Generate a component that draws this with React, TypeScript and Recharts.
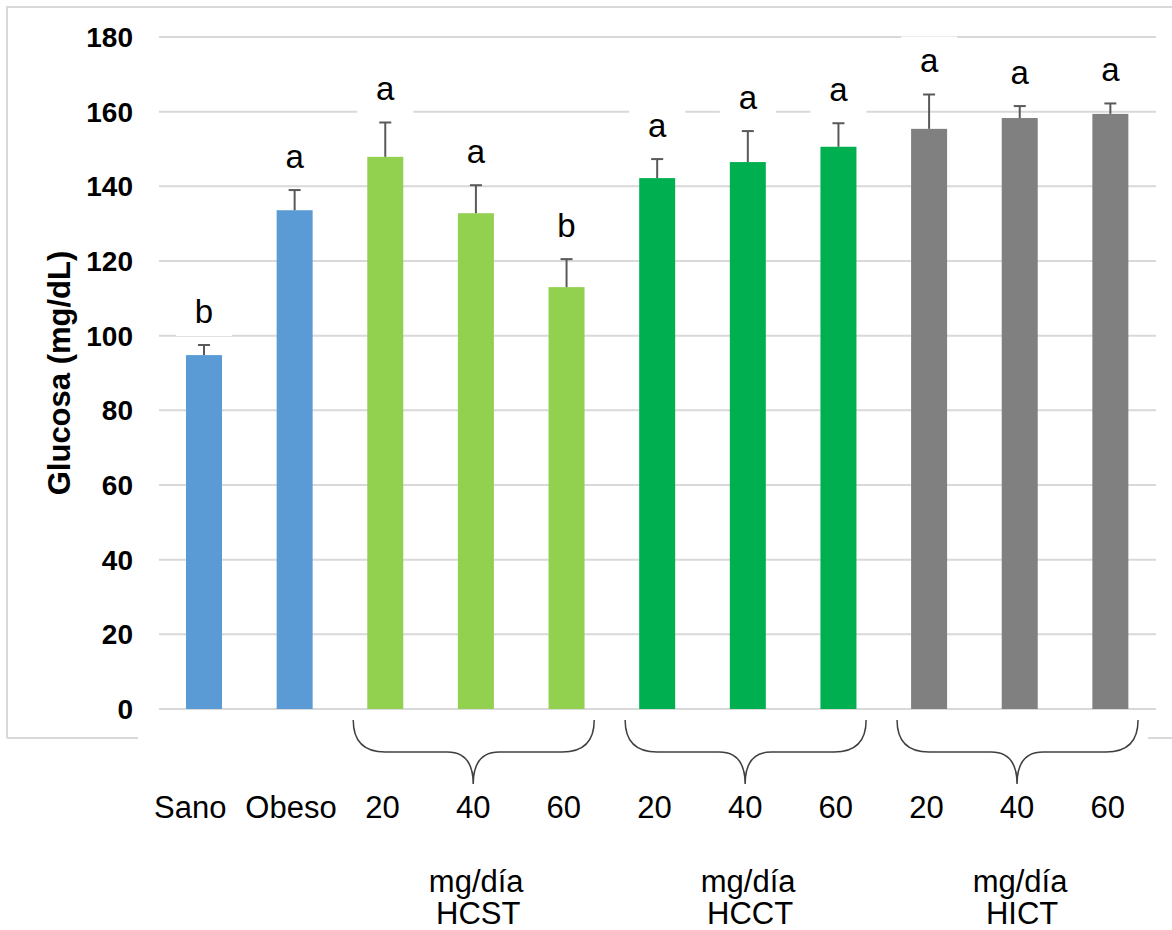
import React from 'react';
import { BarChart, Bar, XAxis, YAxis, CartesianGrid } from 'recharts';

const categories = ['Sano', 'Obeso', '20', '40', '60', '20', '40', '60', '20', '40', '60'];
const glucose = [94.8, 133.6, 147.9, 132.8, 113.0, 142.2, 146.5, 150.6, 155.4, 158.3, 159.4];
const errors = [2.7, 5.4, 9.2, 7.5, 7.5, 5.1, 8.3, 6.3, 9.2, 3.2, 2.8];
const letters = ['b', 'a', 'a', 'a', 'b', 'a', 'a', 'a', 'a', 'a', 'a'];
const groupOf = ['ctrl', 'ctrl', 'HCST', 'HCST', 'HCST', 'HCCT', 'HCCT', 'HCCT', 'HICT', 'HICT', 'HICT'];
const yTicks = [0, 20, 40, 60, 80, 100, 120, 140, 160, 180];
const unitLabel = 'mg/día';
const yLabel = 'Glucosa (mg/dL)';

const COLORS: Record<string, string> = {
  ctrl: '#5B9BD5',
  HCST: '#92D050',
  HCCT: '#00B050',
  HICT: '#808080',
};

const FONT = '"Liberation Sans", Arial, sans-serif';

const data = categories.map((name, i) => ({
  key: i,
  name,
  glucose: glucose[i],
  err: errors[i],
  letter: letters[i],
  group: groupOf[i],
}));

// bar + upper error bar + significance letter on a white box
const BarWithError = (props: any) => {
  const { x, y, width, height, payload } = props;
  const perUnit = height / payload.glucose;
  const errTop = y - payload.err * perUnit;
  const cx = x + width / 2;
  const base = errTop - 22;
  return (
    <g>
      <rect x={x} y={y} width={width} height={height} fill={COLORS[payload.group]} />
      <line x1={cx} y1={y} x2={cx} y2={errTop} stroke="#595959" strokeWidth={2} />
      <line x1={cx - 6} y1={errTop} x2={cx + 6} y2={errTop} stroke="#595959" strokeWidth={2} />
      <rect x={cx - 28} y={base - 36} width={56} height={49} fill="#fff" />
      <text x={cx} y={base} textAnchor="middle" fontSize={33} fontFamily={FONT} fill="#000">
        {payload.letter}
      </text>
    </g>
  );
};

const XTick = (props: any) => {
  const { x, y, index } = props;
  const isMid = index === 3 || index === 6 || index === 9;
  const nudge = index === 0 ? -14 : index === 1 ? -4 : -3;
  const mid = x - 3;
  const x1 = x - 123;
  const x2 = x + 118;
  const top = y + 11;
  const h = y + 43;
  const pt = y + 75;
  return (
    <g>
      <text x={x + nudge} y={y + 109} textAnchor="middle" fontSize={31} fontFamily={FONT} fill="#000">
        {categories[index]}
      </text>
      {isMid && (
        <g>
          <path
            d={`M${x1},${top} Q${x1},${h} ${x1 + 32},${h} L${mid - 26},${h} Q${mid},${h} ${mid},${pt} Q${mid},${h} ${mid + 26},${h} L${x2 - 32},${h} Q${x2},${h} ${x2},${top}`}
            fill="none"
            stroke="#404040"
            strokeWidth={1.5}
          />
          <text x={x} y={y + 183} textAnchor="middle" fontSize={31} fontFamily={FONT} fill="#000">
            {unitLabel}
          </text>
          <text x={x + 2} y={y + 215} textAnchor="middle" fontSize={31} fontFamily={FONT} fill="#000">
            {groupOf[index]}
          </text>
        </g>
      )}
    </g>
  );
};

const App = () => {
  return (
    <div style={{ position: 'absolute', left: 0, top: 0, width: 1172, height: 930, background: '#fff' }}>
      <svg width={1172} height={930} style={{ position: 'absolute', left: 0, top: 0 }}>
        <path d="M7,738 L7,7 L1180,7" fill="none" stroke="#D9D9D9" strokeWidth={2} />
        <line x1={7} y1={738} x2={138} y2={738} stroke="#D9D9D9" strokeWidth={2} />
        <line x1={1148} y1={738} x2={1172} y2={738} stroke="#D9D9D9" strokeWidth={2} />
        <text
          x={70}
          y={373}
          transform="rotate(-90 70 373)"
          textAnchor="middle"
          fontSize={31}
          fontWeight="bold"
          fontFamily={FONT}
          fill="#000"
        >
          {yLabel}
        </text>
      </svg>
      <div style={{ position: 'absolute', left: 0, top: 0 }}>
        <BarChart
          width={1172}
          height={930}
          data={data}
          margin={{ top: 37, right: 16, bottom: 191, left: 59 }}
          barSize={36}
        >
          <CartesianGrid vertical={false} stroke="#D9D9D9" strokeWidth={2} />
          <XAxis
            dataKey="key"
            axisLine={false}
            tickLine={false}
            tickSize={0}
            tickMargin={0}
            height={30}
            interval={0}
            tick={(p: any) => <XTick {...p} />}
          />
          <YAxis
            width={100}
            domain={[0, 180]}
            ticks={yTicks}
            axisLine={false}
            tickLine={false}
            tickSize={0}
            tickMargin={26}
            tick={{ fontSize: 28, fontWeight: 'bold', fill: '#000', fontFamily: FONT }}
          />
          <Bar dataKey="glucose" isAnimationActive={false} shape={<BarWithError />} />
        </BarChart>
      </div>
    </div>
  );
};

export default App;
